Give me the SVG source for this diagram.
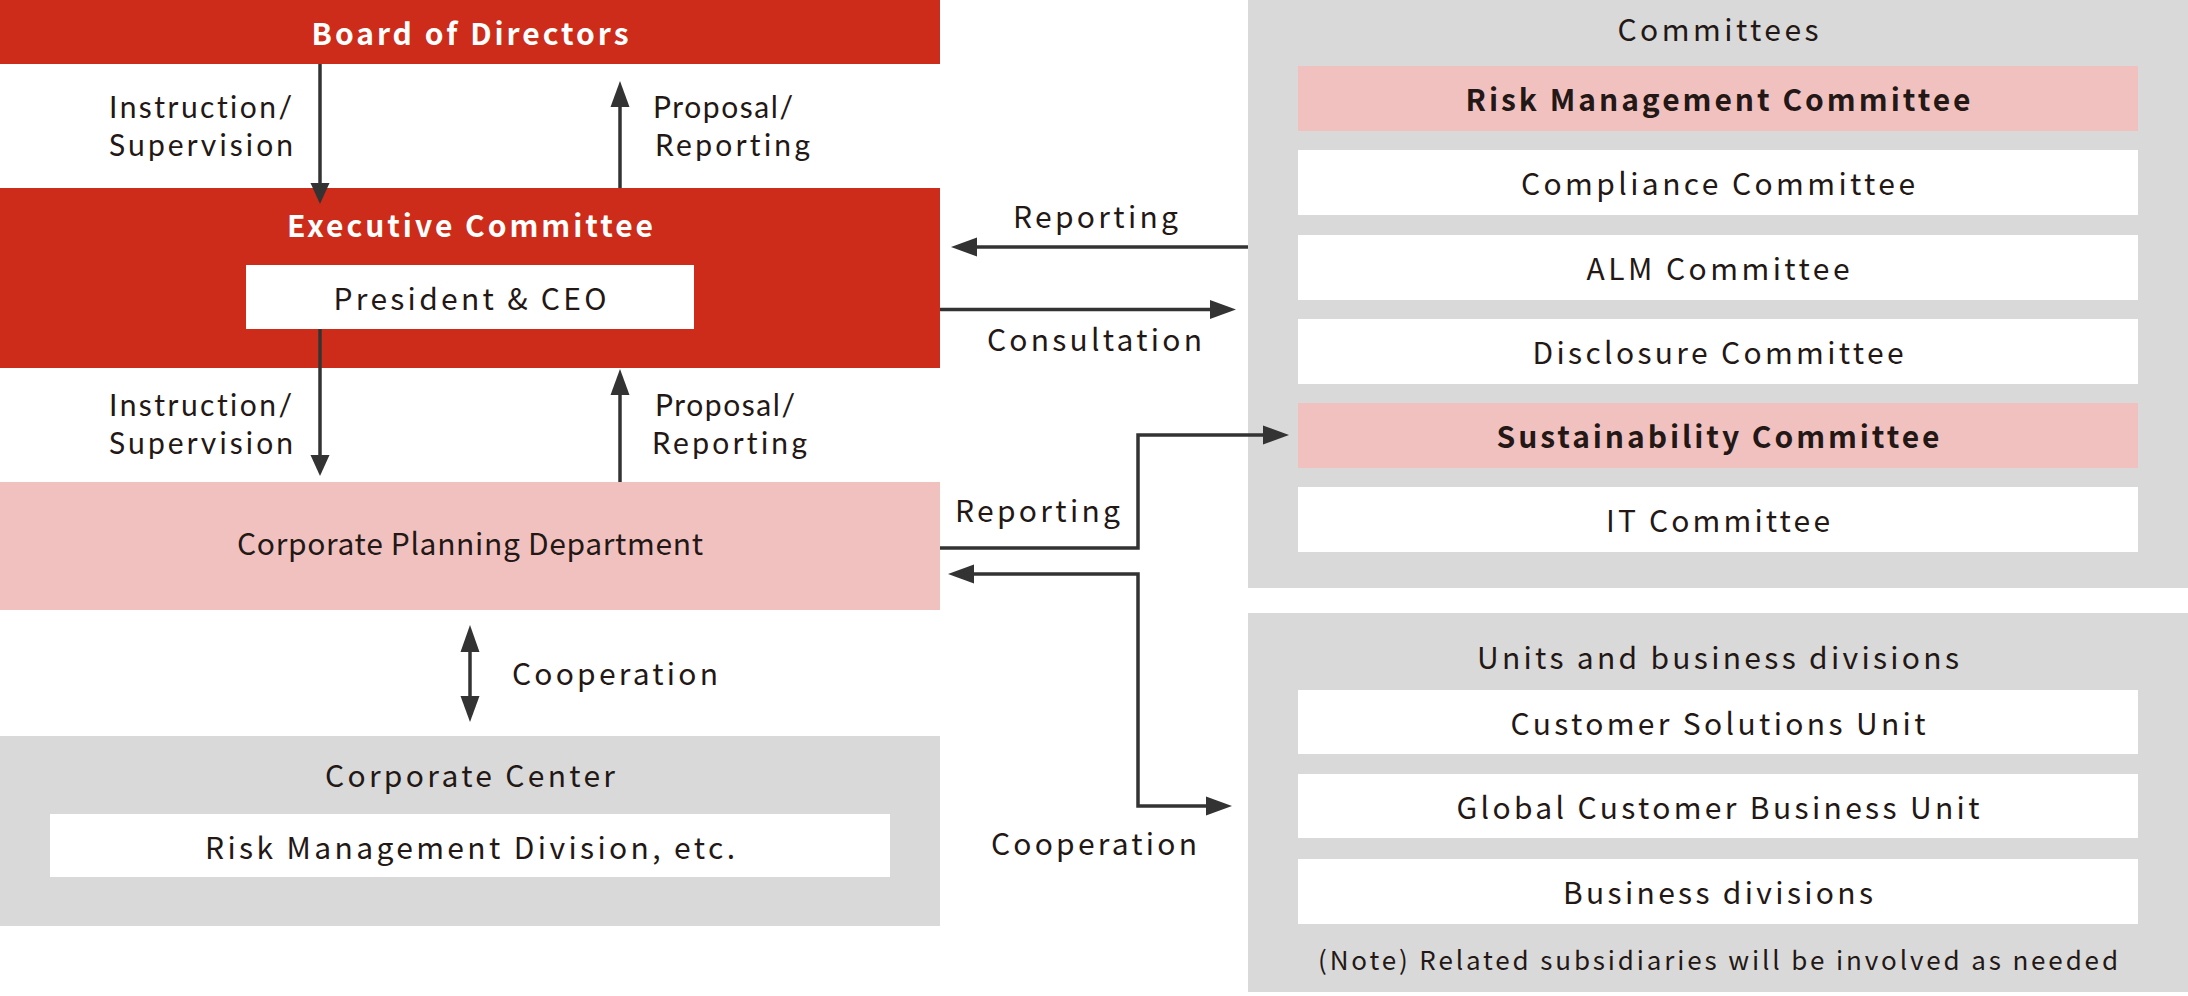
<svg xmlns="http://www.w3.org/2000/svg" width="2188" height="996" viewBox="0 0 2188 996">
<defs>
<style>
text{font-family:"Noto Sans CJK JP","Noto Sans",sans-serif;fill:#231815;font-size:30px}
.w{fill:#ffffff;font-weight:bold}
.b{font-weight:bold}
.m{text-anchor:middle}
.note{font-size:26px}
.two{font-family:Lato,"Noto Sans CJK JP",sans-serif;font-size:30px;font-variant-ligatures:none;font-feature-settings:"liga" 0,"dlig" 0}
.red{fill:#CD2C1A}
.pink{fill:#F1C1C0}
.gray{fill:#D9D9D9}
.white{fill:#ffffff}
.ln{fill:none;stroke:#333333;stroke-width:3.5}
.ah{fill:#333333}
</style>
</defs>
<rect x="0" y="0" width="2188" height="996" fill="#ffffff"/>

<g id="board">
<rect class="red" x="0" y="0" width="940" height="64"/>
<text class="w m" x="470" y="44.5" textLength="317" lengthAdjust="spacing">Board of Directors</text>
</g>

<g id="executive-committee">
<rect class="red" x="0" y="188" width="940" height="180"/>
<text class="w m" x="470" y="236.5" textLength="366" lengthAdjust="spacing">Executive Committee</text>
<g id="president">
<rect class="white" x="246" y="265" width="448" height="64"/>
<text class="m" x="470" y="309.5" textLength="273" lengthAdjust="spacing">President &amp; CEO</text>
</g>
</g>

<g id="corporate-planning">
<rect class="pink" x="0" y="482" width="940" height="128"/>
<text class="m" x="470" y="554.5" font-size="28" textLength="466" lengthAdjust="spacing">Corporate Planning Department</text>
</g>

<g id="corporate-center">
<rect class="gray" x="0" y="736" width="940" height="190"/>
<text class="m" x="470" y="787" textLength="290" lengthAdjust="spacing">Corporate Center</text>
<g id="risk-division">
<rect class="white" x="50" y="814" width="840" height="63"/>
<text class="m" x="470" y="859" textLength="530" lengthAdjust="spacing">Risk Management Division, etc.</text>
</g>
</g>

<g id="committees">
<rect class="gray" x="1248" y="0" width="940" height="588"/>
<text class="m" x="1718" y="41" textLength="201" lengthAdjust="spacing">Committees</text>
<g id="risk-committee">
<rect class="pink" x="1298" y="66" width="840" height="65"/>
<text class="b m" x="1718" y="110.5" textLength="505" lengthAdjust="spacing">Risk Management Committee</text>
</g>
<g id="compliance-committee">
<rect class="white" x="1298" y="150" width="840" height="65"/>
<text class="m" x="1718" y="194.5" textLength="394" lengthAdjust="spacing">Compliance Committee</text>
</g>
<g id="alm-committee">
<rect class="white" x="1298" y="235" width="840" height="65"/>
<text class="m" x="1718" y="279.5" textLength="263" lengthAdjust="spacing">ALM Committee</text>
</g>
<g id="disclosure-committee">
<rect class="white" x="1298" y="319" width="840" height="65"/>
<text class="m" x="1718" y="363.5" textLength="371" lengthAdjust="spacing">Disclosure Committee</text>
</g>
<g id="sustainability-committee">
<rect class="pink" x="1298" y="403" width="840" height="65"/>
<text class="b m" x="1718" y="447.5" textLength="443" lengthAdjust="spacing">Sustainability Committee</text>
</g>
<g id="it-committee">
<rect class="white" x="1298" y="487" width="840" height="65"/>
<text class="m" x="1718" y="531.5" textLength="224" lengthAdjust="spacing">IT Committee</text>
</g>
</g>

<g id="units">
<rect class="gray" x="1248" y="613" width="940" height="379"/>
<text class="m" x="1718" y="669" textLength="482" lengthAdjust="spacing">Units and business divisions</text>
<g id="customer-solutions">
<rect class="white" x="1298" y="690" width="840" height="64"/>
<text class="m" x="1718" y="734.5" textLength="415" lengthAdjust="spacing">Customer Solutions Unit</text>
</g>
<g id="global-customer">
<rect class="white" x="1298" y="774" width="840" height="64"/>
<text class="m" x="1718" y="818.5" textLength="523" lengthAdjust="spacing">Global Customer Business Unit</text>
</g>
<g id="business-divisions">
<rect class="white" x="1298" y="859" width="840" height="65"/>
<text class="m" x="1718" y="904" textLength="310" lengthAdjust="spacing">Business divisions</text>
</g>
<text class="note m" x="1718" y="970" textLength="800" lengthAdjust="spacing">(Note) Related subsidiaries will be involved as needed</text>
</g>

<g id="connectors">
<line class="ln" x1="320" y1="64" x2="320" y2="185"/>
<polygon class="ah" points="320,204 310.5,183 329.5,183"/>
<line class="ln" x1="620" y1="188" x2="620" y2="105"/>
<polygon class="ah" points="620,81 610.5,107 629.5,107"/>
<line class="ln" x1="320" y1="329" x2="320" y2="457"/>
<polygon class="ah" points="320,476 310.5,455 329.5,455"/>
<line class="ln" x1="620" y1="482" x2="620" y2="393"/>
<polygon class="ah" points="620,369 610.5,395 629.5,395"/>
<line class="ln" x1="1248" y1="247" x2="975" y2="247"/>
<polygon class="ah" points="951,247 977,237.5 977,256.5"/>
<line class="ln" x1="940" y1="309.5" x2="1212" y2="309.5"/>
<polygon class="ah" points="1236,309.5 1210,300 1210,319"/>
<polyline class="ln" points="940,548 1138,548 1138,435 1265,435"/>
<polygon class="ah" points="1289,435 1263,425.5 1263,444.5"/>
<polyline class="ln" points="972,574 1138,574 1138,806 1207,806"/>
<polygon class="ah" points="948,574 974,564.5 974,583.5"/>
<polygon class="ah" points="1232,806 1206,796.5 1206,815.5"/>
<line class="ln" x1="470" y1="650" x2="470" y2="698"/>
<polygon class="ah" points="470,625 460.5,652 479.5,652"/>
<polygon class="ah" points="470,722 460.5,696 479.5,696"/>
</g>

<g id="labels">
<text class="two"><tspan x="109" y="118" textLength="183" lengthAdjust="spacing">Instruction/</tspan><tspan x="109" y="156" textLength="184" lengthAdjust="spacing">Supervision</tspan></text>
<text class="two"><tspan x="653" y="118" textLength="140" lengthAdjust="spacing">Proposal/</tspan><tspan x="655" y="156" textLength="155" lengthAdjust="spacing">Reporting</tspan></text>
<text class="two"><tspan x="109" y="416" textLength="183" lengthAdjust="spacing">Instruction/</tspan><tspan x="109" y="454" textLength="184" lengthAdjust="spacing">Supervision</tspan></text>
<text class="two"><tspan x="655" y="416" textLength="140" lengthAdjust="spacing">Proposal/</tspan><tspan x="652" y="454" textLength="155" lengthAdjust="spacing">Reporting</tspan></text>
<text x="1013" y="228" textLength="165" lengthAdjust="spacing">Reporting</text>
<text x="987" y="351" textLength="215" lengthAdjust="spacing">Consultation</text>
<text x="955" y="522" textLength="165" lengthAdjust="spacing">Reporting</text>
<text x="512" y="685" textLength="206" lengthAdjust="spacing">Cooperation</text>
<text x="991" y="855" textLength="206" lengthAdjust="spacing">Cooperation</text>
</g>
</svg>
